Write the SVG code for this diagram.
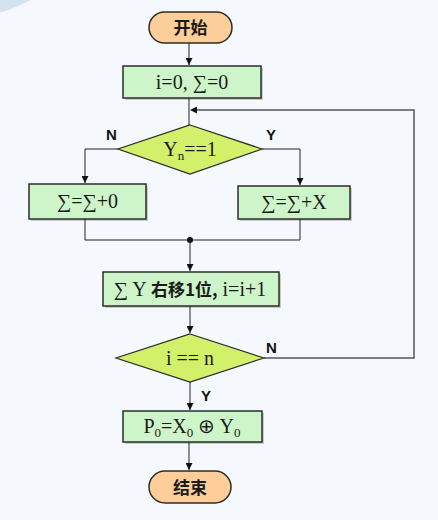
<svg xmlns="http://www.w3.org/2000/svg" width="438" height="520" viewBox="0 0 438 520">
<style>
.term{fill:#fdcd9a;stroke:#2b2b2b;stroke-width:1.5}
.box{fill:#cdf5c9;stroke:#2b2b2b;stroke-width:1.5}
.dia{fill:#d2f06a;stroke:#2b2b2b;stroke-width:1.2}
.sh{fill:#000;opacity:0.18}
.ln{fill:none;stroke:#222;stroke-width:1}
.lp{fill:none;stroke:#555;stroke-width:1.5}
.cjk{font-family:"Noto Sans CJK SC","Liberation Sans",sans-serif;font-weight:bold;font-size:17px;fill:#1a1a1a}
.ser{font-family:"Liberation Serif",serif;font-size:20px;fill:#1a1a1a}
.lbl{font-family:"Liberation Sans",sans-serif;font-weight:bold;font-size:15px;fill:#111}
</style>
<defs>
<marker id="ah" viewBox="0 0 10 10" refX="10" refY="5" markerWidth="7" markerHeight="7" orient="auto" markerUnits="userSpaceOnUse">
<path d="M0,0 L10,5 L0,10 z" fill="#111"/>
</marker>
</defs>
<rect x="0" y="0" width="438" height="520" fill="#f5f8fc"/>
<ellipse cx="-40" cy="-60" rx="110" ry="78" fill="#d3e3f0"/>
<g id="connectors">
<line class="ln" x1="189" y1="43" x2="189" y2="65" marker-end="url(#ah)"/>
<line class="ln" x1="189" y1="98" x2="189" y2="125"/>
<polyline class="lp" points="264,358 414,358 414,110 196,110"/>
<path d="M190,110 L197,106.5 L197,113.5 z" fill="#111"/>
<polyline class="ln" points="118,149 85,149 85,183" marker-end="url(#ah)"/>
<polyline class="ln" points="262,149 300,149 300,185" marker-end="url(#ah)"/>
<polyline class="ln" points="85,219 85,240 300,240 300,219"/>
<circle cx="190" cy="240" r="3" fill="#111"/>
<line class="ln" x1="190" y1="240" x2="190" y2="271" marker-end="url(#ah)"/>
<line class="ln" x1="190" y1="306" x2="190" y2="333" marker-end="url(#ah)"/>
<line class="ln" x1="190" y1="382" x2="190" y2="410" marker-end="url(#ah)"/>
<line class="ln" x1="189" y1="442" x2="189" y2="470" marker-end="url(#ah)"/>
<text class="lbl" x="106" y="140">N</text>
<text class="lbl" x="266" y="140">Y</text>
<text class="lbl" x="266" y="353">N</text>
<text class="lbl" x="201" y="401">Y</text>
</g>
<g id="start">
<rect class="term" x="149" y="12" width="83" height="31" rx="15.5"/>
<text class="cjk" x="190.5" y="33.5" text-anchor="middle">开始</text>
</g>
<g id="init">
<rect class="sh" x="125" y="68" width="138" height="32"/>
<rect class="box" x="123" y="66" width="138" height="32"/>
<text class="ser" x="192" y="89" text-anchor="middle">i=0, ∑=0</text>
</g>
<g id="cond1">
<polygon class="dia" points="190,125 262,149 190,174 118,149"/>
<text class="ser" x="190" y="156" text-anchor="middle">Y<tspan font-size="13" dy="4">n</tspan><tspan dy="-4">==1</tspan></text>
</g>
<g id="add0">
<rect class="sh" x="31" y="186" width="117" height="35"/>
<rect class="box" x="29" y="184" width="117" height="35"/>
<text class="ser" x="87.5" y="208" text-anchor="middle">∑=∑+0</text>
</g>
<g id="addx">
<rect class="sh" x="240" y="188" width="112" height="33"/>
<rect class="box" x="238" y="186" width="112" height="33"/>
<text class="ser" x="294" y="209" text-anchor="middle">∑=∑+X</text>
</g>
<g id="shift">
<rect class="sh" x="105" y="274" width="176" height="34"/>
<rect class="box" x="103" y="272" width="176" height="34"/>
<text x="190" y="296" text-anchor="middle"><tspan class="ser">∑ Y </tspan><tspan class="cjk">右移1位,</tspan><tspan class="ser"> i=i+1</tspan></text>
</g>
<g id="cond2">
<polygon class="dia" points="190,334 264,358 190,382 116,358"/>
<text class="ser" x="190" y="365" text-anchor="middle">i == n</text>
</g>
<g id="xor">
<rect class="sh" x="125" y="413" width="139" height="31"/>
<rect class="box" x="123" y="411" width="139" height="31"/>
<text class="ser" x="192" y="433" text-anchor="middle">P<tspan font-size="13" dy="4">0</tspan><tspan dy="-4">=X</tspan><tspan font-size="13" dy="4">0</tspan><tspan dy="-4"> ⊕ Y</tspan><tspan font-size="13" dy="4">0</tspan></text>
</g>
<g id="end">
<rect class="term" x="149" y="471" width="82" height="32" rx="16"/>
<text class="cjk" x="190" y="493.5" text-anchor="middle">结束</text>
</g>
</svg>
